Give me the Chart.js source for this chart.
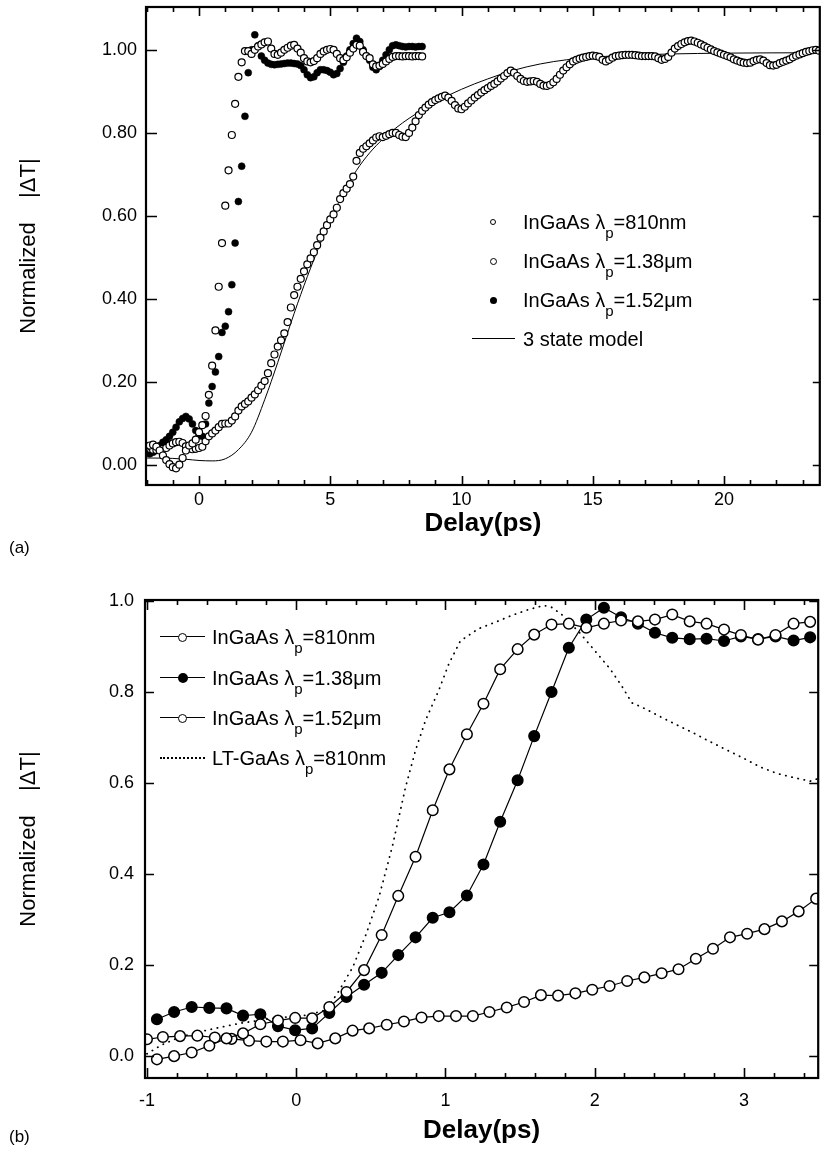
<!DOCTYPE html>
<html><head><meta charset="utf-8">
<script src="https://cdn.jsdelivr.net/npm/chart.js@4"></script>
<style>
html,body{margin:0;padding:0;background:#fff;}
body{width:825px;height:1153px;position:relative;overflow:hidden;font-family:"Liberation Sans",Arial,sans-serif;color:#000;}
.wrap{position:absolute;left:0;width:825px;}
.lg{position:absolute;font-size:20px;line-height:20px;white-space:nowrap;}
.sub{font-size:15px;position:relative;top:9px;}
.mk{position:absolute;border-radius:50%;box-sizing:border-box;}
.ln{position:absolute;height:0;border-top:1.3px solid #000;}
.dl{position:absolute;height:0;border-top:2px dotted #000;}
.lab{position:absolute;font-size:17px;line-height:20px;}
</style></head><body>
<div class="wrap" style="top:0;height:570px"><canvas id="ca"></canvas></div>
<div class="wrap" style="top:570px;height:583px"><canvas id="cb"></canvas></div>

<!-- legend (a) -->
<div class="mk" style="left:490px;top:219px;width:6px;height:6px;border:1px solid #000;background:#fff"></div>
<div class="lg" style="left:523px;top:212px">InGaAs λ<span class="sub">p</span>=810nm</div>
<div class="mk" style="left:489.5px;top:257.5px;width:7px;height:7px;border:1px solid #000;background:#fff"></div>
<div class="lg" style="left:523px;top:251px">InGaAs λ<span class="sub">p</span>=1.38μm</div>
<div class="mk" style="left:489.5px;top:296.5px;width:7px;height:7px;background:#000"></div>
<div class="lg" style="left:523px;top:290px">InGaAs λ<span class="sub">p</span>=1.52μm</div>
<div class="ln" style="left:472px;top:338px;width:43px"></div>
<div class="lg" style="left:523px;top:329px">3 state model</div>

<!-- legend (b) -->
<div class="ln" style="left:160px;top:636px;width:45px"></div>
<div class="mk" style="left:178px;top:632.5px;width:9px;height:9px;border:1.5px solid #000;background:#fff"></div>
<div class="lg" style="left:212px;top:627px">InGaAs λ<span class="sub">p</span>=810nm</div>
<div class="ln" style="left:160px;top:677px;width:45px"></div>
<div class="mk" style="left:177.5px;top:673px;width:10px;height:10px;background:#000"></div>
<div class="lg" style="left:212px;top:668px">InGaAs λ<span class="sub">p</span>=1.38μm</div>
<div class="ln" style="left:160px;top:717px;width:45px"></div>
<div class="mk" style="left:178px;top:713.5px;width:9px;height:9px;border:1.5px solid #000;background:#fff"></div>
<div class="lg" style="left:212px;top:708px">InGaAs λ<span class="sub">p</span>=1.52μm</div>
<div class="dl" style="left:160px;top:757px;width:45px"></div>
<div class="lg" style="left:212px;top:748px">LT-GaAs λ<span class="sub">p</span>=810nm</div>

<div class="lab" style="left:9px;top:538px">(a)</div>
<div class="lab" style="left:9px;top:1127px">(b)</div>

<script>
// ---------------- DATA: panel (a) ----------------
const topStart = -2;          // first delay (ps)
const topStep = 0.125;        // sampling step (ps)
const topSlow138 = [
 0.041,0.040,0.038,0.037,0.038,0.040,0.042,0.048,0.053,0.056,
 0.057,0.054,0.046,0.041,0.039,0.040,0.042,0.045,0.058,0.070,
 0.077,0.084,0.092,0.100,0.101,0.101,0.108,0.118,0.132,0.142,
 0.148,0.154,0.163,0.171,0.181,0.192,0.203,0.222,0.246,0.267,
 0.286,0.301,0.318,0.345,0.380,0.410,0.430,0.449,0.467,0.484,
 0.498,0.513,0.530,0.548,0.563,0.578,0.592,0.604,0.620,0.641,
 0.655,0.666,0.677,0.695,0.733,0.752,0.762,0.768,0.775,0.782,
 0.789,0.792,0.790,0.793,0.797,0.800,0.800,0.795,0.791,0.790,
 0.800,0.813,0.828,0.843,0.853,0.861,0.868,0.874,0.879,0.883,
 0.887,0.890,0.885,0.877,0.867,0.859,0.857,0.863,0.871,0.878,
 0.885,0.891,0.897,0.903,0.908,0.913,0.918,0.924,0.931,0.937,
 0.944,0.950,0.945,0.937,0.930,0.925,0.923,0.924,0.925,0.923,
 0.918,0.914,0.913,0.916,0.922,0.930,0.940,0.950,0.958,0.965,
 0.972,0.976,0.979,0.981,0.983,0.985,0.986,0.985,0.983,0.976,
 0.972,0.976,0.981,0.985,0.986,0.987,0.988,0.988,0.988,0.987,
 0.986,0.985,0.985,0.985,0.985,0.984,0.980,0.976,0.978,0.983,
 0.993,1.003,1.009,1.014,1.018,1.021,1.022,1.020,1.017,1.013,
 1.009,1.005,1.001,0.997,0.994,0.991,0.988,0.985,0.982,0.977,
 0.974,0.971,0.969,0.968,0.969,0.973,0.976,0.977,0.974,0.968,
 0.963,0.962,0.964,0.968,0.971,0.974,0.977,0.982,0.986,0.989,
 0.992,0.995,0.997,0.999,1.000,0.998];
const topFast810 = [
 0.045,0.048,0.050,0.045,0.036,0.024,0.013,0.003,-0.004,-0.007,
 0.002,0.018,0.036,0.048,0.053,0.062,0.080,0.097,0.119,0.170,
 0.240,0.325,0.430,0.535,0.625,0.710,0.795,0.870,0.935,0.970,
 0.997,0.997,0.990,1.000,1.008,1.013,1.018,1.020,1.003,0.990,
 0.988,0.993,1.000,1.005,1.010,1.012,1.003,0.993,0.980,0.972,
 0.970,0.973,0.980,0.990,0.996,1.000,1.002,1.000,0.990,0.980,
 0.975,0.982,0.993,1.003,1.012,1.010,0.995,0.985,0.980,0.965,
 0.960,0.962,0.966,0.972,0.978,0.983,0.985,0.985,0.984,0.985,
 0.985,0.984,0.985,0.985,0.984];
const topFilled152 = [
 0.030,0.028,0.032,0.040,0.048,0.056,0.062,0.070,0.080,0.092,
 0.105,0.113,0.118,0.112,0.100,0.084,0.072,0.070,0.100,0.150,
 0.190,0.225,0.262,0.320,0.335,0.370,0.435,0.535,0.635,0.720,
 0.840,0.945,1.000,1.036,1.010,0.985,0.975,0.968,0.965,0.964,
 0.965,0.966,0.967,0.968,0.968,0.967,0.966,0.962,0.952,0.940,
 0.933,0.935,0.945,0.952,0.952,0.950,0.946,0.940,0.943,0.955,
 0.970,0.985,1.000,1.015,1.028,1.020,1.000,0.985,0.975,0.958,
 0.952,0.960,0.975,0.988,1.000,1.010,1.012,1.010,1.008,1.007,
 1.008,1.008,1.007,1.008,1.008];
const modelDelay  = [-2.02,-1,-0.5,0,0.5,1,1.5,2,2.5,3,3.5,4,4.5,5,5.5,6,6.5,7,7.5,8,9,10,11,12,13,14,15,16,18,20,23.65];
const modelValues = [0.018,0.017,0.015,0.012,0.011,0.016,0.038,0.080,0.158,0.248,0.343,0.433,0.515,0.590,0.655,0.710,0.752,0.785,0.812,0.835,0.874,0.905,0.930,0.951,0.966,0.976,0.982,0.986,0.990,0.992,0.993];
const topXTicks = [0,5,10,15,20];
const topYTicks = [0,0.2,0.4,0.6,0.8,1.0];

// ---------------- DATA: panel (b) ----------------
const bDelay810 = [-0.933,-0.818,-0.700,-0.582,-0.467,-0.356,-0.240,-0.122,-0.007,0.107,0.222,0.337,0.455,0.573,0.684,0.800,0.915,1.027,1.144,1.255,1.367,1.484,1.595,1.711,1.827,1.944,2.062,2.177,2.290,2.404,2.520,2.637,2.750,2.867,2.980,3.095,3.212,3.333,3.444];
const b810 = [-0.007,0.000,0.008,0.023,0.039,0.050,0.070,0.078,0.084,0.083,0.108,0.141,0.189,0.266,0.352,0.438,0.540,0.630,0.707,0.774,0.850,0.894,0.926,0.948,0.950,0.941,0.950,0.957,0.955,0.959,0.970,0.955,0.950,0.937,0.925,0.915,0.925,0.950,0.954];
const b138 = [0.081,0.097,0.108,0.106,0.105,0.089,0.092,0.066,0.057,0.061,0.095,0.130,0.157,0.183,0.222,0.261,0.304,0.316,0.353,0.421,0.515,0.606,0.703,0.800,0.897,0.959,0.985,0.964,0.950,0.930,0.919,0.916,0.917,0.912,0.922,0.916,0.922,0.913,0.920];
const bDelay152 = [-1.000,-0.893,-0.778,-0.662,-0.545,-0.433,-0.316,-0.200,-0.089,0.029,0.144,0.262,0.378,0.489,0.607,0.722,0.840,0.955,1.071,1.184,1.295,1.411,1.527,1.640,1.755,1.871,1.984,2.100,2.218,2.333,2.449,2.562,2.678,2.793,2.907,3.022,3.138,3.255,3.367,3.484];
const b152 = [0.037,0.042,0.044,0.045,0.041,0.038,0.034,0.032,0.032,0.035,0.028,0.039,0.056,0.061,0.069,0.076,0.085,0.088,0.088,0.088,0.097,0.107,0.119,0.134,0.133,0.138,0.146,0.154,0.165,0.173,0.182,0.191,0.214,0.236,0.261,0.269,0.279,0.296,0.318,0.346];
const ltDelay = [-1.0,-0.9,-0.78,-0.6,-0.38,-0.16,0.07,0.2,0.29,0.38,0.47,0.555,0.644,0.733,0.8,0.867,0.955,1.022,1.1,1.222,1.333,1.444,1.556,1.66,1.711,1.78,1.9,2.0,2.1,2.178,2.25,2.333,2.444,2.555,2.667,2.778,2.889,3.0,3.111,3.222,3.333,3.444,3.5];
const ltValues = [0.005,0.025,0.042,0.057,0.072,0.083,0.090,0.101,0.145,0.196,0.269,0.350,0.460,0.591,0.672,0.738,0.803,0.861,0.912,0.939,0.953,0.968,0.981,0.990,0.986,0.970,0.930,0.891,0.852,0.815,0.776,0.764,0.745,0.727,0.709,0.690,0.672,0.654,0.635,0.621,0.612,0.604,0.610];
const botXTicks = [-1,0,1,2,3];
const botYTicks = [0,0.2,0.4,0.6,0.8,1.0];

// ---------------- helpers ----------------
const ink = '#000';
const FONT = '"Liberation Sans", Arial, sans-serif';
const pts = (xs, ys) => ys.map((y, i) => ({x: xs[i], y}));
const topDelays = topSlow138.map((_, i) => topStart + i * topStep);

function tickList(majors, minorPerMajor, lo, hi) {
  const step = (majors[1] - majors[0]) / minorPerMajor;
  const out = [];
  const first = majors[0] - Math.floor((majors[0] - lo) / step) * step;
  for (let v = first; v <= hi + 1e-9; v += step) {
    const isMajor = majors.some(m => Math.abs(m - v) < 1e-6);
    if (v > lo + 1e-6 && v < hi - 1e-6) out.push({v, major: isMajor});
  }
  return out;
}

const frameTicks = {
  id: 'frameTicks',
  afterDatasetsDraw(chart, args, o) {
    const {ctx, chartArea: a, scales: {x, y}} = chart;
    ctx.save();
    ctx.strokeStyle = ink; ctx.lineWidth = 1.6;
    ctx.beginPath();
    for (const t of o.xTicks) {
      const px = Math.round(x.getPixelForValue(t.v)) + 0.5;
      const L = t.major ? o.xMajorLen : o.xMinorLen;
      ctx.moveTo(px, a.bottom); ctx.lineTo(px, a.bottom - L);
      ctx.moveTo(px, a.top); ctx.lineTo(px, a.top + L);
    }
    for (const v of o.yTicks) {
      const py = Math.round(y.getPixelForValue(v)) + 0.5;
      ctx.moveTo(a.left, py); ctx.lineTo(a.left + o.yLeftLen, py);
      ctx.moveTo(a.right, py); ctx.lineTo(a.right - o.yRightLen, py);
    }
    ctx.stroke();
    ctx.lineWidth = 2.2;
    ctx.strokeRect(a.left, a.top, a.right - a.left, a.bottom - a.top);
    ctx.restore();
  }
};

const noPad = s => { s.paddingTop = 0; s.paddingBottom = 0; s.paddingLeft = 0; s.paddingRight = 0; };

function options(p) {
  return {
    responsive: true, maintainAspectRatio: false, animation: false,
    layout: {padding: {left: 0, top: p.top, right: p.right, bottom: 0}},
    plugins: {legend: {display: false}, tooltip: {enabled: false}, frameTicks: p.ticks},
    scales: {
      x: {
        type: 'linear', min: p.xmin, max: p.xmax, position: 'bottom',
        grid: {display: false, drawTicks: false}, border: {display: false},
        afterBuildTicks: s => { s.ticks = p.xLabels.map(v => ({value: v})); },
        afterFit: s => { s.height = p.xHeight; noPad(s); },
        ticks: {color: ink, font: {family: FONT, size: 18}, padding: p.xPad, maxRotation: 0, autoSkip: false,
                callback: v => String(v)},
        title: {display: true, text: 'Delay(ps)', color: ink,
                font: {family: FONT, size: 26, weight: 'bold'}, padding: {top: 0, bottom: p.xTitlePad}}
      },
      y: {
        type: 'linear', min: p.ymin, max: p.ymax, position: 'left',
        grid: {display: false, drawTicks: false}, border: {display: false},
        afterBuildTicks: s => { s.ticks = p.yLabels.map(v => ({value: v})); },
        afterFit: s => { s.width = p.yWidth; noPad(s); },
        ticks: {color: ink, font: {family: FONT, size: 18}, padding: p.yPad, autoSkip: false,
                callback: v => v.toFixed(p.yDec)},
        title: {display: true, text: 'Normalized    |ΔT|', color: ink,
                font: {family: FONT, size: 22}, padding: {top: 16, bottom: 0}}
      }
    }
  };
}

const openTop = {showLine: false, pointRadius: 3.5, pointBorderWidth: 1.2, pointBorderColor: ink, pointBackgroundColor: '#fff'};

new Chart(document.getElementById('ca'), {
  type: 'scatter',
  data: {datasets: [
    Object.assign({label: 'InGaAs λp=810nm', data: pts(topDelays, topFast810)}, openTop),
    Object.assign({label: 'InGaAs λp=1.38μm', data: pts(topDelays, topSlow138)}, openTop),
    {label: 'InGaAs λp=1.52μm', data: pts(topDelays, topFilled152), showLine: false,
     pointRadius: 3.5, pointBorderWidth: 0.5, pointBorderColor: ink, pointBackgroundColor: ink},
    {label: '3 state model', data: pts(modelDelay, modelValues), showLine: true, pointRadius: 0,
     borderColor: ink, borderWidth: 1, tension: 0.4, cubicInterpolationMode: 'monotone'}
  ]},
  options: options({
    top: 7, right: 2, xmin: -2.02, xmax: 23.65, ymin: -0.047, ymax: 1.103,
    xLabels: topXTicks, yLabels: topYTicks, yDec: 2,
    xHeight: 85, yWidth: 146, xPad: 4, yPad: 9, xTitlePad: 31,
    ticks: {xTicks: tickList(topXTicks, 5, -2.02, 23.65), yTicks: topYTicks,
            xMajorLen: 9, xMinorLen: 5, yLeftLen: 11, yRightLen: 7}
  }),
  plugins: [frameTicks]
});

const lineSet = (label, xs, ys, filled) => ({
  label, data: pts(xs, ys), showLine: true, borderColor: ink, borderWidth: 1.2, tension: 0,
  pointRadius: 5.3, pointBorderWidth: 1.5, pointBorderColor: ink,
  pointBackgroundColor: filled ? ink : '#fff'
});

new Chart(document.getElementById('cb'), {
  type: 'scatter',
  data: {datasets: [
    lineSet('InGaAs λp=810nm', bDelay810, b810, false),
    lineSet('InGaAs λp=1.38μm', bDelay810, b138, true),
    lineSet('InGaAs λp=1.52μm', bDelay152, b152, false),
    {label: 'LT-GaAs λp=810nm', data: pts(ltDelay, ltValues), showLine: true, pointRadius: 0,
     borderColor: ink, borderWidth: 1.8, borderDash: [0.3, 6], borderCapStyle: 'round', tension: 0}
  ]},
  options: options({
    top: 30, right: 3, xmin: -1.013, xmax: 3.498, ymin: -0.048, ymax: 1.002,
    xLabels: botXTicks, yLabels: botYTicks, yDec: 1,
    xHeight: 75, yWidth: 145, xPad: 12, yPad: 11, xTitlePad: 7,
    ticks: {xTicks: tickList(botXTicks, 5, -1.013, 3.498), yTicks: botYTicks,
            xMajorLen: 10, xMinorLen: 5, yLeftLen: 9, yRightLen: 9}
  }),
  plugins: [frameTicks]
});
</script>
</body></html>
